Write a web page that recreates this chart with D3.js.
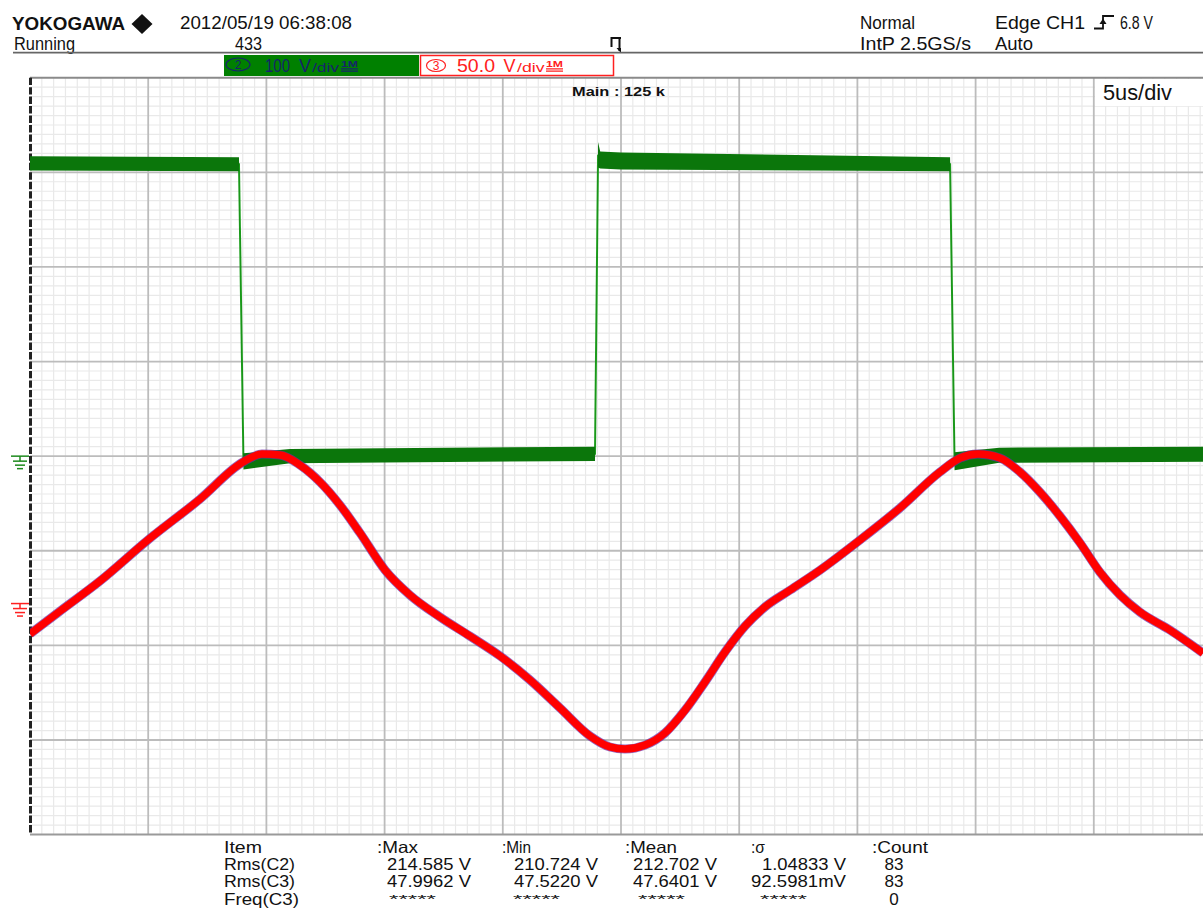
<!DOCTYPE html>
<html>
<head>
<meta charset="utf-8">
<script src="https://cdn.jsdelivr.net/npm/d3@7"></script>
<style>
  body { margin: 0; background: #fff; }
  text { font-family: "Liberation Sans", Arial, sans-serif; fill: #111; }
</style>
</head>
<body>
<div id="scope"></div>
<script>
// time in microseconds (5 us/div), voltages in volts
var redTime  = [0, 1.27, 2.96, 4.99, 7.19, 9.01, 9.81, 10.58, 11.42, 12.27, 13.11, 13.96, 15.02, 16.07, 17.34, 18.61,
                19.88, 21.15, 22.42, 23.69, 24.53, 25.17, 26.02, 26.86, 27.71, 28.55, 29.40, 30.25, 31.09, 32.15,
                33.42, 35.11, 36.80, 38.49, 39.34, 40.10, 41.03, 41.88, 42.72, 43.57, 44.42, 45.26, 46.11, 46.95,
                48.22, 49.62];
var redVolts = [-16.1, -4.0, 11.9, 33.6, 55.2, 74.8, 79.0, 78.5, 73.2, 64.2, 52.1, 37.3, 17.7, 4.5, -7.1, -17.2,
                -27.7, -40.4, -55.2, -70.0, -75.8, -76.9, -74.8, -68.4, -56.3, -41.5, -25.6, -11.9, -1.8, 7.1,
                17.7, 33.6, 50.5, 69.5, 76.9, 79.0, 76.9, 69.5, 58.9, 46.2, 32.0, 16.6, 4.5, -4.5,
                -14.0, -26.2];

var greenTime = [0, 8.84, 9.03, 11, 23.9, 24.03, 24.12, 25, 38.92, 39.11, 41, 49.7];
var greenMax  = [317, 316, 3, 7.5, 10, 332, 322, 321, 316, 4, 9, 10];
var greenMin  = [302, 301, -14, -7.5, -5, 305, 304, 303, 301, -15, -7, -6];

var statItems = ["Item", "Rms(C2)", "Rms(C3)", "Freq(C3)"];
var statHeads = [":Max", ":Min", ":Mean", ":σ", ":Count"];
var statMax   = ["214.585 V", "47.9962 V", "*****"];
var statMin   = ["210.724 V", "47.5220 V", "*****"];
var statMean  = ["212.702 V", "47.6401 V", "*****"];
var statSigma = ["1.04833 V", "92.5981mV", "*****"];
var statCount = ["83", "83", "0"];

var W = 1203, H = 913;
var plot = {left: 30, top: 77.7, right: 1212, bottom: 834.6};

var svg = d3.select("#scope")
  .append("svg")
    .attr("width", W)
    .attr("height", H)
    .style("display", "block");

svg.append("rect").attr("width", W).attr("height", H).attr("fill", "#fff");

var x = d3.scaleLinear().domain([0, 50]).range([plot.left, plot.right]);
var y = d3.scaleLinear().domain([-4, 4]).range([plot.bottom, plot.top]);

// channel settings: volts per div and ground offset in divs
var ch2 = {vdiv: 100, offset: 0, color: "#0b760b", mark: "#1d8a1d"};
var ch3 = {vdiv: 50, offset: -1.558, color: "#ff0000", mark: "#ff2020"};

svg.append("clipPath").attr("id", "clip")
  .append("rect")
    .attr("x", plot.left).attr("y", plot.top)
    .attr("width", W - plot.left).attr("height", plot.bottom - plot.top);

// ---- grid
var grid = svg.append("g");
var majorT = d3.range(0, 50.01, 5);
var minorT = d3.range(0, 50.01, 0.5).filter(function(d){ return Math.abs(d / 5 - Math.round(d / 5)) > 1e-6; });
var majorD = d3.range(-4, 4.01, 1);
var minorD = d3.range(-4, 4.001, 0.1).filter(function(d){ return Math.abs(d - Math.round(d)) > 1e-6; });

grid.selectAll(".mv").data(minorT).enter().append("line")
  .attr("x1", function(d){ return x(d); }).attr("x2", function(d){ return x(d); })
  .attr("y1", plot.top).attr("y2", plot.bottom)
  .attr("stroke", "#e9e9e9").attr("stroke-width", 1.2);
grid.selectAll(".mh").data(minorD).enter().append("line")
  .attr("x1", plot.left).attr("x2", W)
  .attr("y1", function(d){ return y(d); }).attr("y2", function(d){ return y(d); })
  .attr("stroke", "#e9e9e9").attr("stroke-width", 1.2);
grid.selectAll(".Mv").data(majorT.slice(1)).enter().append("line")
  .attr("x1", function(d){ return x(d); }).attr("x2", function(d){ return x(d); })
  .attr("y1", plot.top).attr("y2", plot.bottom)
  .attr("stroke", "#bcbcbc").attr("stroke-width", 1.8);
grid.selectAll(".Mh").data(majorD.slice(1, -1)).enter().append("line")
  .attr("x1", plot.left).attr("x2", W)
  .attr("y1", function(d){ return y(d); }).attr("y2", function(d){ return y(d); })
  .attr("stroke", "#bcbcbc").attr("stroke-width", 1.8);

// frame: top and bottom border, dashed left edge
grid.append("line").attr("x1", plot.left).attr("x2", W).attr("y1", plot.top).attr("y2", plot.top)
  .attr("stroke", "#8a8a8a").attr("stroke-width", 2);
grid.append("line").attr("x1", plot.left).attr("x2", W).attr("y1", plot.bottom).attr("y2", plot.bottom)
  .attr("stroke", "#9a9a9a").attr("stroke-width", 2);
grid.append("line").attr("x1", plot.left + 0.5).attr("x2", plot.left + 0.5)
  .attr("y1", plot.top).attr("y2", plot.bottom)
  .attr("stroke", "#222").attr("stroke-width", 3)
  .attr("stroke-dasharray", "7.4,2.06");

// ---- traces
var traces = svg.append("g").attr("clip-path", "url(#clip)");
var gIdx = d3.range(greenTime.length);

// thin line first (shows on the edges), envelope band on top of it
traces.append("path")
  .datum(gIdx)
  .attr("d", d3.line()
    .x(function(i){ return x(greenTime[i]); })
    .y(function(i){ return y((greenMin[i] + greenMax[i]) / 2 / ch2.vdiv + ch2.offset); }))
  .attr("fill", "none")
  .attr("stroke", "#1f9f1f")
  .attr("stroke-width", 2);
traces.append("path")
  .datum(gIdx)
  .attr("d", d3.area()
    .x(function(i){ return x(greenTime[i]); })
    .y0(function(i){ return y(greenMin[i] / ch2.vdiv + ch2.offset); })
    .y1(function(i){ return y(greenMax[i] / ch2.vdiv + ch2.offset); }))
  .attr("fill", ch2.color);

var rIdx = d3.range(redTime.length);
var redLine = d3.line()
  .curve(d3.curveMonotoneX)
  .x(function(i){ return x(redTime[i]); })
  .y(function(i){ return y(redVolts[i] / ch3.vdiv + ch3.offset); });

traces.append("path").datum(rIdx).attr("d", redLine)
  .attr("fill", "none").attr("stroke", "#6a2aa8").attr("stroke-width", 9).attr("opacity", 0.7);
traces.append("path").datum(rIdx).attr("d", redLine)
  .attr("fill", "none").attr("stroke", ch3.color).attr("stroke-width", 7.5);

// ---- ground markers
function groundMark(ch) {
  var gy = y(ch.offset);
  var g = svg.append("g").attr("stroke", ch.mark).attr("stroke-width", 1.5).attr("fill", "none");
  g.append("line").attr("x1", 11).attr("x2", 29).attr("y1", gy).attr("y2", gy);
  g.append("line").attr("x1", 20).attr("x2", 20).attr("y1", gy).attr("y2", gy + 5);
  g.append("line").attr("x1", 13).attr("x2", 27).attr("y1", gy + 5).attr("y2", gy + 5);
  g.append("line").attr("x1", 15).attr("x2", 25).attr("y1", gy + 9).attr("y2", gy + 9);
  g.append("line").attr("x1", 17).attr("x2", 23).attr("y1", gy + 12.5).attr("y2", gy + 12.5);
}
groundMark(ch2);
groundMark(ch3);

// ---- header
function label(px, py, txt, size, opts) {
  opts = opts || {};
  var t = svg.append("text")
    .attr("x", px).attr("y", py)
    .style("font-size", size + "px")
    .text(txt);
  if (opts.len) t.attr("textLength", opts.len).attr("lengthAdjust", "spacingAndGlyphs");
  if (opts.weight) t.style("font-weight", opts.weight);
  if (opts.fill) t.style("fill", opts.fill);
  if (opts.anchor) t.attr("text-anchor", opts.anchor);
  return t;
}

label(12, 29.5, "YOKOGAWA", 18.5, {len: 113, weight: 700});
svg.append("path").attr("d", "M142,14 L152.5,24 L142,34 L131.5,24 Z").attr("fill", "#111");
label(180, 29.3, "2012/05/19 06:38:08", 19, {len: 172});
label(14, 50, "Running", 18, {len: 61});
label(235, 50, "433", 18, {len: 27});
label(860, 29.3, "Normal", 18, {len: 55});
label(860, 50, "IntP 2.5GS/s", 18, {len: 111});
label(995, 29.3, "Edge CH1", 18, {len: 90});
label(1120, 29.3, "6.8 V", 18, {len: 33});
label(995, 50, "Auto", 18, {len: 38});
// rising edge trigger symbol
svg.append("path").attr("d", "M1094,28.5 H1103 V16 H1114").attr("fill", "none").attr("stroke", "#111").attr("stroke-width", 1.8);
svg.append("path").attr("d", "M1099.5,24 L1103,18.5 L1106.5,24 Z").attr("fill", "#111");
// trigger position mark
svg.append("path").attr("d", "M610.5,38 H621 M611.5,38 V47 M619.5,38 V51").attr("fill", "none").attr("stroke", "#111").attr("stroke-width", 2);
svg.append("path").attr("d", "M616.5,48 L621,48 L621,53 Z").attr("fill", "#111");

svg.append("line").attr("x1", 13).attr("x2", W).attr("y1", 52.7).attr("y2", 52.7)
  .attr("stroke", "#666").attr("stroke-width", 1.8);

// channel boxes
svg.append("rect").attr("x", 224).attr("y", 55).attr("width", 195).attr("height", 21).attr("fill", "#008000");
svg.append("ellipse").attr("cx", 238).attr("cy", 64.5).attr("rx", 12).attr("ry", 6.5)
  .attr("fill", "none").attr("stroke", "#16246a").attr("stroke-width", 1.2);
label(238, 69, "2", 12, {anchor: "middle", fill: "#16246a"});
label(265, 72, "100", 19, {len: 25, fill: "#16246a"});
label(299, 72, "V", 19, {len: 12, fill: "#16246a"});
label(312, 72, "/div", 13, {len: 27, fill: "#16246a"});
label(341, 66.5, "1M", 9, {len: 17, fill: "#16246a", weight: 700});
svg.append("path").attr("d", "M341,68.8 H358 M341,71.2 H358").attr("stroke", "#16246a").attr("stroke-width", 1.2);

svg.append("rect").attr("x", 420.5).attr("y", 55.5).attr("width", 193).attr("height", 20)
  .attr("fill", "#fff").attr("stroke", "#ff2020").attr("stroke-width", 1.5);
svg.append("ellipse").attr("cx", 436).attr("cy", 65.5).attr("rx", 9.5).attr("ry", 6)
  .attr("fill", "none").attr("stroke", "#ff2020").attr("stroke-width", 1.2);
label(436, 70, "3", 12, {anchor: "middle", fill: "#ff2020"});
label(457, 72, "50.0", 19, {len: 38, fill: "#ff2020"});
label(503.5, 72, "V", 19, {len: 12, fill: "#ff2020"});
label(517, 72, "/div", 13, {len: 27.5, fill: "#ff2020"});
label(546, 66.5, "1M", 9, {len: 17, fill: "#ff2020", weight: 700});
svg.append("path").attr("d", "M546,68.8 H563 M546,71.2 H563").attr("stroke", "#ff2020").attr("stroke-width", 1.2);

// in-graticule labels
svg.append("rect").attr("x", 1095).attr("y", 79).attr("width", W - 1095).attr("height", 27).attr("fill", "#fff");
label(1103, 100, "5us/div", 22, {len: 69});
label(572, 96, "Main : 125 k", 12, {len: 93, weight: 700});

// ---- measurement table
var rowY = [853, 870, 887, 905];
var colHeadX = [377, 502, 625, 751, 872];
var colEndX = [471, 598, 717, 846];
var colStartX = [389, 513, 638, 760];
var cols = [statMax, statMin, statMean, statSigma];
var fs = 16.5;

statItems.forEach(function(s, i){ label(224, rowY[i], s, fs, {len: [38, 71, 71, 75][i]}); });
statHeads.forEach(function(s, i){ label(colHeadX[i], rowY[0], s, fs, {len: [41, 29, 52, 14, 56][i]}); });
cols.forEach(function(col, c){
  col.forEach(function(v, r){
    if (v === "*****") label(colStartX[c], rowY[r + 1] - 2, v, 11, {len: 47});
    else label(colEndX[c], rowY[r + 1], v, fs, {anchor: "end", len: v.slice(-2) === "mV" ? 95 : 84});
  });
});
statCount.forEach(function(v, r){ label(894, rowY[r + 1], v, fs, {anchor: "middle", len: v.length * 9.5}); });
</script>
</body>
</html>
